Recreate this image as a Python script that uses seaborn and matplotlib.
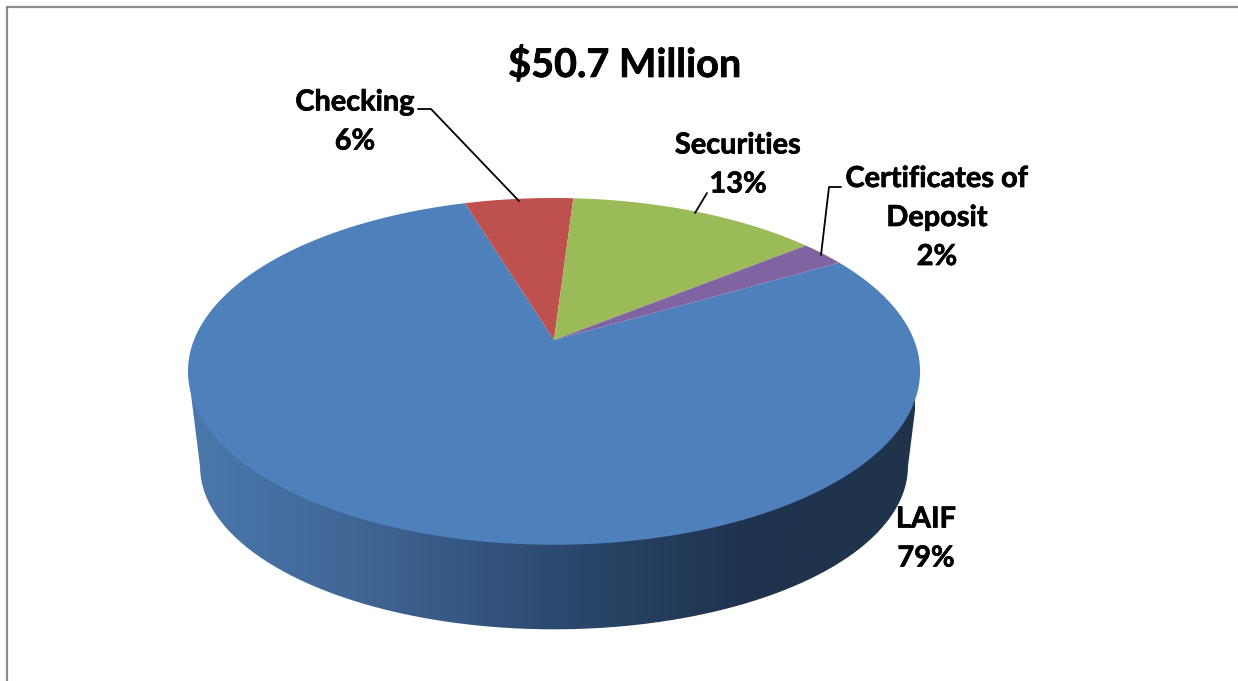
import numpy as np
import matplotlib
matplotlib.use("Agg")
import matplotlib.pyplot as plt
import matplotlib.patheffects as pe
from matplotlib.path import Path
from matplotlib.patches import PathPatch
from matplotlib.transforms import Transform
import seaborn as sns

# ---- data ----
title = "$50.7 Million"
categories = ["LAIF", "Checking", "Securities", "Certificates of\nDeposit"]
shares = [78.7, 5.7, 13.2, 2.4]
colors = ["#4E80BC", "#BE504D", "#9BBB59", "#8064A2"]
wall_colors = ["#4B78AC", "#3F6494", "#2C4A70", "#1F344F", "#1F334B"]

# ---- layout (figure pixels) ----
W, H = 1238, 681
CX, CY = 554, 340           # apex of the pie
RX, RY, K = 360, 167.7, 0.181   # perspective of the top disc
LABEL_POS = [(926, 539), (355, 122), (738, 165), (937, 218)]
LEADERS = [None,
           ([418, 431, 519], [109, 109, 201]),
           ([707, 695], [193, 213]),
           ([841, 829, 821], [187, 187, 255])]

sns.set_theme(style="white")
plt.rcParams["font.family"] = ["Lato", "DejaVu Sans"]


class Perspective(Transform):
    """Tilts the unit-circle pie into the page."""
    input_dims = output_dims = 2
    is_separable = False
    has_inverse = False

    def transform_non_affine(self, values):
        v = np.asarray(values, dtype=float)
        d = 1 + K * v[:, 1]
        return np.column_stack([CX + RX * v[:, 0] / d, CY - RY * v[:, 1] / d])

    def transform_path_non_affine(self, path):
        pts = [b(np.linspace(0, 1, 24)) for b, _ in path.iter_bezier()]
        return Path(self.transform_non_affine(np.vstack(pts)))


fig = plt.figure(figsize=(W / 100, H / 100), dpi=100, facecolor="white")
ax = fig.add_axes([0, 0, 1, 1])

wedges, _ = ax.pie(shares, colors=colors, startangle=30.2, counterclock=False,
                   radius=1, wedgeprops=dict(linewidth=0, zorder=3))
ax.set_aspect("auto")
ax.set_xlim(0, W)
ax.set_ylim(H, 0)
ax.axis("off")

tilt = Perspective()
for w in wedges:
    w.set_transform(tilt + ax.transData)

# side wall: silhouette from the top disc and the lower disc
t = np.linspace(0, 2 * np.pi, 721)
rim = tilt.transform_non_affine(np.column_stack([np.cos(t), np.sin(t)]))
low = np.column_stack([CX + (rim[:, 0] - CX) * 0.967,
                       466 + (rim[:, 1] - 371) * 0.94])
top_half = rim[rim[:, 1] <= 371]
low_half = low[low[:, 1] >= 466]
top_half = top_half[np.argsort(top_half[:, 0])]
low_half = low_half[np.argsort(-low_half[:, 0])]
outline = np.vstack([top_half, low_half])
wall_cmap = sns.blend_palette(wall_colors, as_cmap=True)
img = ax.imshow(np.linspace(0, 1, 256)[None, :], cmap=wall_cmap, aspect="auto",
                extent=[190, 915, 640, 360], zorder=2)
clip = PathPatch(Path(outline, closed=False), transform=ax.transData,
                 fc="none", ec="none")
ax.add_patch(clip)
img.set_clip_path(clip)
ax.set_xlim(0, W)
ax.set_ylim(H, 0)

# chart frame
ax.plot([7, 7, W], [H, 7, 7], color="#8C8C8C", lw=1.6, zorder=1,
        solid_joinstyle="miter")

thicken = [pe.withStroke(linewidth=0.5, foreground="black")]

# labels
for name, share, pos, lead in zip(categories, shares, LABEL_POS, LEADERS):
    ax.text(pos[0], pos[1], f"{name}\n{share:.0f}%", ha="center", va="center",
            fontsize=20.8, fontweight="bold", color="black", linespacing=1.62,
            zorder=5, path_effects=thicken)
    if lead is not None:
        ax.plot(lead[0], lead[1], color="black", lw=1.3, zorder=4)

ax.text(625, 65, title, ha="center", va="center", fontsize=28.5,
        fontweight="bold", color="black", zorder=5, path_effects=thicken)

fig.savefig("out.png", dpi=100, facecolor="white")
